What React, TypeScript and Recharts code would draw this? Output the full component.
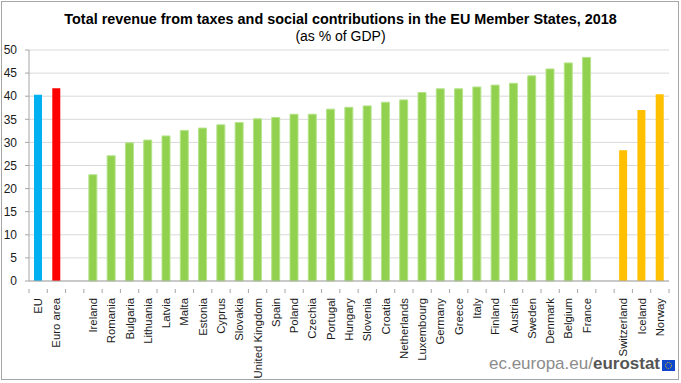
import React from 'react';
import { BarChart, Bar, XAxis, YAxis, CartesianGrid, Cell } from 'recharts';

const categories = [
  'EU', 'Euro area', '',
  'Ireland', 'Romania', 'Bulgaria', 'Lithuania', 'Latvia', 'Malta', 'Estonia', 'Cyprus', 'Slovakia',
  'United Kingdom', 'Spain', 'Poland', 'Czechia', 'Portugal', 'Hungary', 'Slovenia', 'Croatia',
  'Netherlands', 'Luxembourg', 'Germany', 'Greece', 'Italy', 'Finland', 'Austria', 'Sweden',
  'Denmark', 'Belgium', 'France', ' ',
  'Switzerland', 'Iceland', 'Norway',
];

const values = [
  40.3, 41.7, null,
  23.0, 27.1, 29.9, 30.5, 31.4, 32.6, 33.1, 33.8, 34.3,
  35.1, 35.4, 36.1, 36.1, 37.2, 37.6, 37.9, 38.7,
  39.2, 40.8, 41.6, 41.6, 42.0, 42.4, 42.8, 44.4,
  45.9, 47.2, 48.4, null,
  28.3, 37.0, 40.4,
];

const groups = [
  'eu', 'ea', 'gap',
  'ms', 'ms', 'ms', 'ms', 'ms', 'ms', 'ms', 'ms', 'ms',
  'ms', 'ms', 'ms', 'ms', 'ms', 'ms', 'ms', 'ms',
  'ms', 'ms', 'ms', 'ms', 'ms', 'ms', 'ms', 'ms',
  'ms', 'ms', 'ms', 'gap',
  'efta', 'efta', 'efta',
];

const yTicks = [0, 5, 10, 15, 20, 25, 30, 35, 40, 45, 50];

const groupColors: Record<string, string> = {
  eu: '#00b0f0',
  ea: '#ff0000',
  ms: '#92d050',
  efta: '#ffc000',
  gap: '#ffffff',
};

const data = categories.map((name, i) => ({ name, value: values[i], group: groups[i] }));

const W = 681;
const H = 383;
const plotLeft = 29;
const plotRight = 12;
const band = (W - plotLeft - plotRight) / categories.length;
const font = '"Liberation Sans", Arial, sans-serif';

const CountryTick = (props: any) => {
  const { x, y, payload, index } = props;
  const left = x - band / 2;
  return (
    <g>
      <line x1={left} y1={y} x2={left} y2={y + 4} stroke="#a6a6a6" />
      {index === categories.length - 1 && (
        <line x1={x + band / 2} y1={y} x2={x + band / 2} y2={y + 4} stroke="#a6a6a6" />
      )}
      <text
        x={0}
        y={0}
        transform={`translate(${x + 4},${y + 9}) rotate(-90)`}
        textAnchor="end"
        fontSize={11.3}
        fill="#1a1a1a"
        fontFamily={font}
      >
        {payload.value}
      </text>
    </g>
  );
};

export default function App() {
  return (
    <div style={{ position: 'absolute', left: 0, top: 0, width: W, height: H, background: '#fff', fontFamily: font }}>
      <div style={{ position: 'absolute', left: 1, top: 1, width: W - 5, height: H - 6, border: '1.5px solid #a6a6a6' }} />
      <div style={{ position: 'absolute', left: 0, top: 11, width: W, textAlign: 'center', fontSize: 14.4, fontWeight: 'bold', color: '#000' }}>
        Total revenue from taxes and social contributions in the EU Member States, 2018
      </div>
      <div style={{ position: 'absolute', left: 0, top: 28, width: W, textAlign: 'center', fontSize: 14, color: '#000' }}>
        (as % of GDP)
      </div>
      <div style={{ position: 'absolute', left: 0, top: 0 }}>
        <BarChart width={W} height={H} data={data} margin={{ top: 50, right: plotRight, bottom: 0, left: 0 }} barCategoryGap={5}>
          <CartesianGrid vertical={false} stroke="#d9d9d9" />
          <XAxis
            dataKey="name"
            interval={0}
            height={102}
            tick={<CountryTick />}
            tickLine={false}
            axisLine={{ stroke: '#a6a6a6' }}
          />
          <YAxis
            width={plotLeft}
            domain={[0, 50]}
            ticks={yTicks}
            interval={0}
            tickSize={4}
            tickMargin={8}
            axisLine={{ stroke: '#a6a6a6' }}
            tickLine={{ stroke: '#a6a6a6' }}
            tick={{ fontSize: 12, fill: '#1a1a1a', fontFamily: font }}
          />
          <Bar dataKey="value" barSize={8} isAnimationActive={false}>
            {data.map((d, i) => (
              <Cell key={`cell-${i}`} fill={groupColors[d.group]} stroke={d.group === 'ms' ? '#b5e48a' : 'none'} strokeWidth={1} />
            ))}
          </Bar>
        </BarChart>
      </div>
      <div style={{ position: 'absolute', right: 21, top: 354, fontSize: 17, color: '#8c8c8c', whiteSpace: 'nowrap' }}>
        ec.europa.eu/<span style={{ color: '#555', fontWeight: 'bold' }}>eurostat</span>
      </div>
      <svg style={{ position: 'absolute', left: 662, top: 360 }} width={13} height={11}>
        <rect x={0} y={0} width={13} height={11} fill="#0e47cb" />
        <circle cx={6.5} cy={5.5} r={3} fill="none" stroke="#ffcc00" strokeWidth={1} strokeDasharray="1 1" />
      </svg>
    </div>
  );
}
